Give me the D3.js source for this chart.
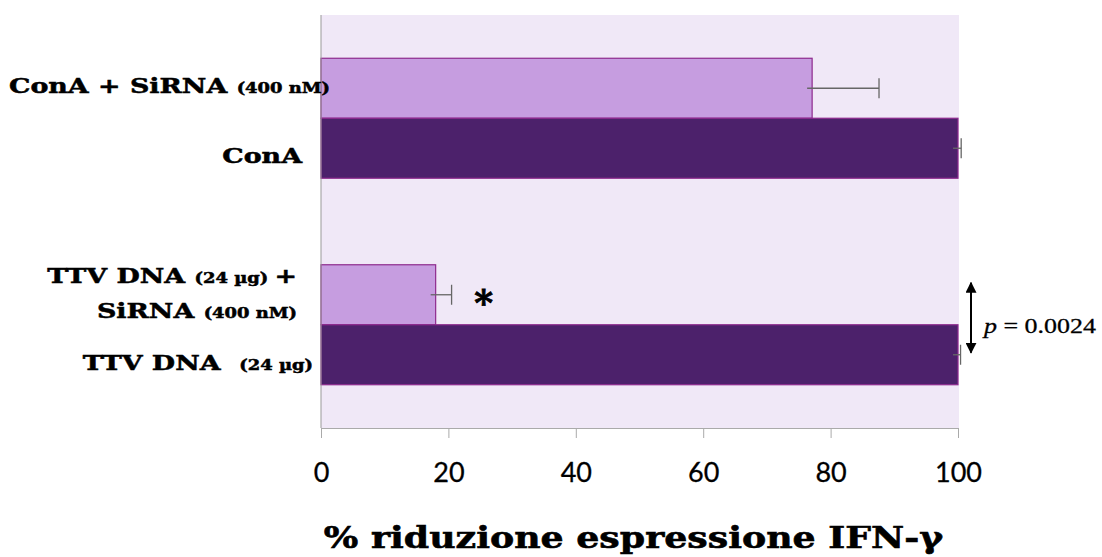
<!DOCTYPE html>
<html>
<head>
<meta charset="utf-8">
<script src="https://cdn.jsdelivr.net/npm/d3@7"></script>
<style>
  html, body { margin: 0; padding: 0; background: #ffffff; }
  svg { display: block; }
</style>
</head>
<body>
<svg id="chart" width="1102" height="557"></svg>
<script>
// Treatment groups (top to bottom) and the two bars inside each group
const groups = ["ConA", "TTV DNA"];
const seriesKeys = ["siRNA", "control"];

// % of IFN-γ expression, with the upper standard error
const siRNAValues   = [77.1, 18.0];
const siRNAErrors   = [10.5, 2.5];
const controlValues = [100, 100];
const controlErrors = [0.5, 0.4];

const xTicks = [0, 20, 40, 60, 80, 100];
const axisTitle = "% riduzione espressione IFN-γ";
const pValueText = "0.0024";

// Category labels, written as runs of normal and small text
const barLabels = [
  { group: "ConA", key: "siRNA", lines: [[["ConA + SiRNA ", "big"], ["(400 nM)", "small"]]] },
  { group: "ConA", key: "control", lines: [[["ConA", "big"]]] },
  { group: "TTV DNA", key: "siRNA", lines: [[["TTV DNA ", "big"], ["(24 µg) ", "small"], ["+", "big"]],
                                             [["SiRNA ", "big"], ["(400 nM)", "small"]]] },
  { group: "TTV DNA", key: "control", lines: [[["TTV DNA  ", "big"], ["(24 µg)", "small"]]] }
];

const colors = { siRNA: "#c69de0", control: "#4c216b" };

// wide, heavy serif look for the labels
const serifFace = "'DejaVu Serif', serif";
const wide = 1.28;

const svg = d3.select("#chart");
const plot = { left: 321, right: 958, top: 15, bottom: 428 };

const x = d3.scaleLinear().domain([0, 100]).range([plot.left, plot.right]);
const y = d3.scaleBand().domain(groups).range([plot.top, plot.bottom])
  .paddingInner(0.419).paddingOuter(0.2095);
const yInner = d3.scaleBand().domain(seriesKeys).range([0, y.bandwidth()]);

// plot area background
svg.append("rect")
  .attr("x", plot.left).attr("y", plot.top)
  .attr("width", plot.right - plot.left + 1).attr("height", plot.bottom - plot.top)
  .attr("fill", "#f0e8f7");

// bars
const rows = [];
groups.forEach((g, i) => {
  rows.push({ group: g, key: "siRNA", value: siRNAValues[i], err: siRNAErrors[i] });
  rows.push({ group: g, key: "control", value: controlValues[i], err: controlErrors[i] });
});

svg.append("g").selectAll("rect").data(rows).join("rect")
  .attr("x", x(0))
  .attr("y", d => y(d.group) + yInner(d.key))
  .attr("width", d => x(d.value) - x(0))
  .attr("height", yInner.bandwidth())
  .attr("fill", d => colors[d.key])
  .attr("stroke", "#8e2a8e")
  .attr("stroke-width", 1.2);

// error bars (plus side)
const eb = svg.append("g").attr("stroke", "#666").attr("stroke-width", 1.3);
rows.forEach(d => {
  const cy = y(d.group) + yInner(d.key) + yInner.bandwidth() / 2;
  eb.append("line").attr("x1", x(d.value) - 5).attr("x2", x(d.value + d.err))
    .attr("y1", cy).attr("y2", cy);
  eb.append("line").attr("x1", x(d.value + d.err)).attr("x2", x(d.value + d.err))
    .attr("y1", cy - 10).attr("y2", cy + 10);
});

// y axis line
svg.append("line").attr("x1", plot.left).attr("x2", plot.left)
  .attr("y1", plot.top).attr("y2", plot.bottom).attr("stroke", "#999").attr("stroke-width", 1);

// x axis
const xAxis = svg.append("g").attr("transform", `translate(0,${plot.bottom})`)
  .call(d3.axisBottom(x).tickValues(xTicks).tickSize(10).tickPadding(25).tickFormat(d3.format("d")));
xAxis.select(".domain").attr("stroke", "#aaa");
xAxis.selectAll(".tick line").attr("stroke", "#aaa");
xAxis.selectAll(".tick text")
  .attr("font-family", "Lato, 'Open Sans', sans-serif")
  .attr("font-size", 27).attr("fill", "#000")
  .attr("stroke", "#000").attr("stroke-width", 0.3);

// axis title
svg.append("text")
  .attr("transform", `translate(${(plot.left + plot.right) / 2 - 6},548) scale(1.21,1)`)
  .attr("text-anchor", "middle")
  .attr("font-family", serifFace).attr("font-weight", "bold")
  .attr("font-size", 30).attr("fill", "#000")
  .attr("stroke", "#000").attr("stroke-width", 0.6)
  .text(axisTitle);

// category labels
const labelLayout = {
  "ConA|siRNA":    { x: 330, dy: [5] },
  "ConA|control":  { x: 302, dy: [15] },
  "TTV DNA|siRNA": { x: 297, dy: [-12, 23] },
  "TTV DNA|control": { x: 313, dy: [15] }
};
const labelG = svg.append("g")
  .attr("font-family", serifFace).attr("font-weight", "bold").attr("fill", "#000")
  .attr("stroke", "#000").attr("stroke-width", 0.5);
barLabels.forEach(lb => {
  const lay = labelLayout[lb.group + "|" + lb.key];
  const cy = y(lb.group) + yInner(lb.key) + yInner.bandwidth() / 2;
  lb.lines.forEach((line, li) => {
    const t = labelG.append("text")
      .attr("transform", `translate(${lay.x},${cy + lay.dy[li]}) scale(${wide},1)`)
      .attr("text-anchor", "end")
      .attr("xml:space", "preserve");
    line.forEach(([txt, size]) => {
      t.append("tspan").attr("font-size", size === "big" ? 21 : 14).text(txt);
    });
  });
});

// significance marker
const ttvSiY = y("TTV DNA") + yInner("siRNA") + yInner.bandwidth() / 2;
svg.append("text")
  .attr("x", x(siRNAValues[1] + siRNAErrors[1]) + 32).attr("y", ttvSiY + 20)
  .attr("text-anchor", "middle")
  .attr("font-family", serifFace).attr("font-weight", "bold")
  .attr("stroke", "#000").attr("stroke-width", 0.8)
  .attr("font-size", 36).text("*");

// p-value double arrow
const defs = svg.append("defs");
defs.append("marker").attr("id", "arrowHead").attr("viewBox", "0 0 10 10")
  .attr("refX", 9).attr("refY", 5).attr("markerWidth", 5.5).attr("markerHeight", 5.5)
  .attr("orient", "auto-start-reverse").attr("markerUnits", "strokeWidth")
  .append("path").attr("d", "M0,0 L10,5 L0,10 Z").attr("fill", "#000");
const arrowTop = y("TTV DNA") + yInner("siRNA") + 18;
const arrowBot = y("TTV DNA") + yInner("control") + yInner.bandwidth() - 32;
svg.append("line")
  .attr("x1", plot.right + 13).attr("x2", plot.right + 13)
  .attr("y1", arrowTop).attr("y2", arrowBot)
  .attr("stroke", "#000").attr("stroke-width", 2)
  .attr("marker-start", "url(#arrowHead)").attr("marker-end", "url(#arrowHead)");

const pText = svg.append("text")
  .attr("transform", `translate(${plot.right + 26},${y("TTV DNA") + yInner("control") + 8}) scale(1.18,1)`)
  .attr("font-family", "'Liberation Serif', 'Times New Roman', serif")
  .attr("font-size", 22).attr("fill", "#000")
  .attr("stroke", "#000").attr("stroke-width", 0.3);
pText.append("tspan").attr("font-style", "italic").text("p");
pText.append("tspan").text(" = " + pValueText);
</script>
</body>
</html>
